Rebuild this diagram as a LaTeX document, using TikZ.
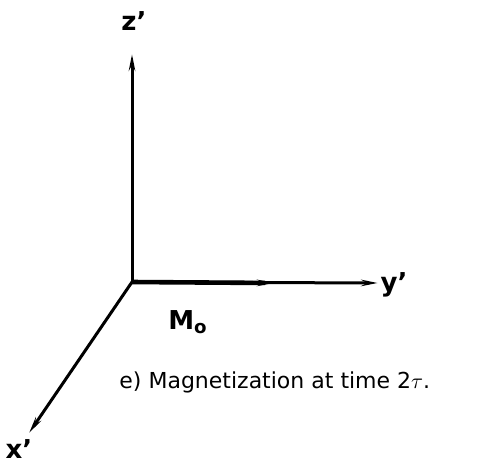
\documentclass[tikz,border=0pt]{standalone}
\usepackage{fontspec}
\setmainfont{DejaVu Sans}
\usetikzlibrary{arrows.meta}
\begin{document}
\begin{tikzpicture}[x=0.5pt, y=-0.5pt, >={Stealth[length=8pt,width=3pt]}, thick,
    axis/.style={->, line width=1.5pt},
    axlabel/.style={font=\bfseries\fontsize{13}{15}\selectfont, inner sep=0pt}]
                \useasboundingbox (0,0) rectangle (488,462);
                % Ejes
                \coordinate (O) at (132,282);
                \coordinate (Z) at (132,54);
                \coordinate (Y) at (378,283);
                \coordinate (X) at (29,433);
                \draw[axis] (O) -- (Z);
                \draw[axis] (O) -- (Y);
                \draw[axis] (O) -- (X);
                \node[axlabel] (zl) at (134,21) {z'};
                \node[axlabel] (yl) at (394,285) {y'};
                \node[axlabel] (xl) at (19,449) {x'};

                % Magnetizacion
                \coordinate (M) at (274,283);
                \draw[->, line width=2.3pt] (O) -- (M);
                \node[font=\bfseries\fontsize{13}{15}\selectfont] (ml) at (188,322) {M$_{\mathbf{o}}$};

                % Texto
                \node[font=\fontsize{11}{13}\selectfont, anchor=west] (cap) at (112,382) {e)\ Magnetization at time 2$\tau$.};
            \end{tikzpicture}
\end{document}
